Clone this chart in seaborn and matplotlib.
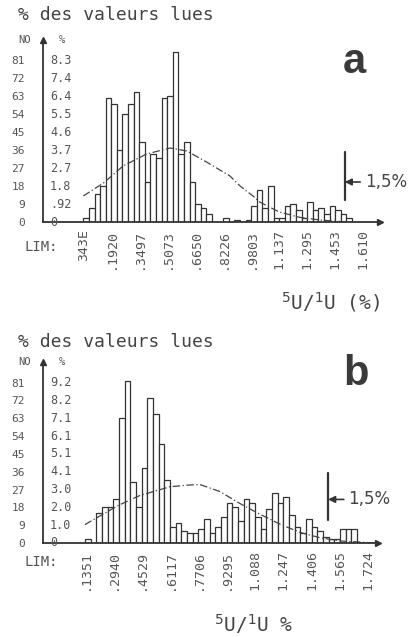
import numpy as np
import pandas as pd
import matplotlib
matplotlib.use('Agg')
import matplotlib.pyplot as plt
import seaborn as sns

sns.set_style('white')
plt.rcParams['font.family'] = ['DejaVu Sans Mono', 'DejaVu Sans']

# ---- panel a : comptages par classe (50 classes)
comptes_a = [2, 7, 14, 18, 62, 59, 36, 54, 59, 65,
             40, 20, 34, 32, 62, 63, 85, 34, 40, 20,
             9, 7, 4, 0, 0, 2, 0, 1, 0, 1,
             8, 16, 7, 18, 2, 2, 8, 9, 6, 2,
             10, 6, 7, 4, 8, 6, 4, 2, 0, 0]
lim_a = ['343E', '.1920', '.3497', '.5073', '.6650', '.8226',
         '.9803', '1.137', '1.295', '1.453', '1.610']
pct_a = ['8.3', '7.4', '6.4', '5.5', '4.6', '3.7', '2.7', '1.8', '.92', '0']
courbe_a_x = [0, 3.6, 7.1, 11.3, 15.5, 18.5, 22, 26.2, 28, 30.3, 31.5, 35, 38.7, 42.3, 47]
courbe_a_y = [13, 19.5, 28, 34, 37, 35.5, 30, 23, 18, 13, 10, 5, 2.3, 1, 0]

# ---- panel b
comptes_b = [2, 0, 15, 18, 18, 22, 63, 82, 31, 18,
             38, 73, 65, 50, 32, 8, 10, 6, 5, 5,
             7, 12, 5, 8, 13, 20, 18, 11, 22, 20,
             13, 7, 17, 25, 20, 23, 14, 8, 5, 12,
             8, 6, 3, 2, 2, 7, 7, 7, 0, 0]
lim_b = ['.1351', '.2940', '.4529', '.6117', '.7706', '.9295',
         '1.088', '1.247', '1.406', '1.565', '1.724']
pct_b = ['9.2', '8.2', '7.1', '6.1', '5.1', '4.1', '3.0', '2.0', '1.0', '0']
courbe_b_x = [0, 5.9, 9.7, 15, 18.5, 20.3, 23.8, 27.3, 30.9, 34.4, 37.9, 41.4, 45, 48.5, 51]
courbe_b_y = [9.3, 19, 24, 28.4, 29.3, 29.5, 26, 20, 14.5, 9.5, 5.4, 2.7, 1, 0.5, 0]

nos = [81, 72, 63, 54, 45, 36, 27, 18, 9, 0]

# seuil 1,5% : (position classe, bas, haut, fleche)
seuil_a = (46.7, 11, 35, 20)
seuil_b = (42.9, 11.6, 35.4, 22)

W, H = 414, 637
fig = plt.figure(figsize=(W / 100, H / 100), dpi=100)
gris = '#555555'
trait = '#333333'


def panneau(rect, comptes, lims, pcts, cx, cy, seuil, xlim, ymax, lettre, lettre_pos,
            titre_y, lim_y, xlabel, xlabel_pos):
    ax = fig.add_axes(rect)
    nb = len(comptes)
    df = pd.DataFrame({'classe': np.arange(nb) + 0.5, 'n': comptes})
    sns.histplot(data=df, x='classe', weights='n', binwidth=1, binrange=(0, nb), ax=ax,
                 color='white', edgecolor=trait, linewidth=0.9, alpha=1)
    sns.lineplot(x=cx, y=cy, ax=ax, color='#444444', linewidth=0.9,
                 linestyle=(0, (6, 2, 1, 2)))
    ax.set_xlim(*xlim)
    ax.set_ylim(0, ymax)
    ax.set_xlabel('')
    ax.set_ylabel('')
    for s in ['top', 'right']:
        ax.spines[s].set_visible(False)
    for s in ['left', 'bottom']:
        ax.spines[s].set_color(trait)
        ax.spines[s].set_linewidth(1.3)
    ax.plot(1, 0, '>', transform=ax.transAxes, clip_on=False, color=trait, ms=5)
    ax.plot(0, 1, '^', transform=ax.transAxes, clip_on=False, color=trait, ms=5)

    ax.set_yticks(nos)
    ax.set_yticklabels([str(n) for n in nos], color=gris, fontsize=8)
    ax.tick_params(axis='y', direction='inout', length=5, width=0.8, pad=10.5, color=trait)
    for n, p in zip(nos, pcts):
        ax.annotate(p, xy=(0, n), xycoords=('axes fraction', 'data'), xytext=(5, 0),
                    textcoords='offset points', ha='left', va='center',
                    color=gris, fontsize=8.5)
    ax.annotate('NO', xy=(0, 1), xycoords='axes fraction', xytext=(-9, 0),
                textcoords='offset points', ha='right', va='center', color=gris, fontsize=7.5)
    ax.annotate('%', xy=(0, 1), xycoords='axes fraction', xytext=(14, 0),
                textcoords='offset points', ha='center', va='center', color=gris, fontsize=7.5)

    ticks = np.arange(0, nb + 1, 5)
    ax.set_xticks(ticks)
    ax.set_xticklabels(lims, rotation=90, va='top', color=gris, fontsize=9.5)
    ax.tick_params(axis='x', direction='out', length=2, width=0.8, pad=3, color=trait)

    x0, y0, y1, yf = seuil
    ax.plot([x0, x0], [y0, y1], color=trait, linewidth=1.6)
    ax.annotate('1,5%', xy=(x0, yf), xytext=(x0 + 3.6, yf), textcoords='data',
                ha='left', va='center', fontsize=12, color='#444444',
                family='DejaVu Sans',
                arrowprops=dict(arrowstyle='-|>', color=trait, lw=1.2,
                                mutation_scale=10, shrinkA=1, shrinkB=0))

    fig.text(18 / W, 1 - titre_y / H, '% des valeurs lues', ha='left', va='center',
             fontsize=13, color='#444444')
    fig.text(lettre_pos[0] / W, 1 - lettre_pos[1] / H, lettre, ha='center', va='center',
             fontsize=30, fontweight='bold', family='Liberation Sans', color='#3a3a3a')
    fig.text(25 / W, 1 - lim_y / H, 'LIM:', ha='left', va='center', fontsize=10, color=gris)
    fig.text(xlabel_pos[0] / W, 1 - xlabel_pos[1] / H, xlabel, ha='left', va='center',
             fontsize=14, color='#444444')
    return ax


panneau([43 / W, 1 - 222 / H, 337 / W, 182 / H], comptes_a, lim_a, pct_a,
        courbe_a_x, courbe_a_y, seuil_a, (-7.2, 53.0), 91, 'a', (354, 62),
        15, 247, r'$^5$U/$^1$U (%)', (281, 302))
panneau([43 / W, 1 - 543 / H, 335 / W, 181 / H], comptes_b, lim_b, pct_b,
        courbe_b_x, courbe_b_y, seuil_b, (-7.4, 51.7), 91.4, 'b', (356, 374),
        342, 562, r'$^5$U/$^1$U %', (214, 624))

fig.savefig('out.png', dpi=100, facecolor='white')
